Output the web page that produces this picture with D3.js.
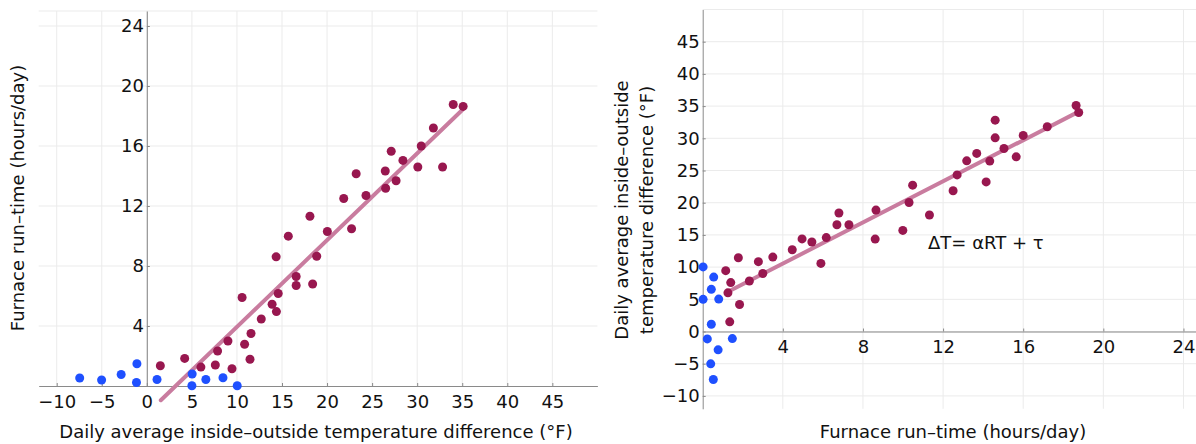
<!DOCTYPE html>
<html>
<head>
<meta charset="utf-8">
<script src="https://cdn.jsdelivr.net/npm/d3@7"></script>
<style>
  body { margin: 0; background: #fff; }
  svg { display: block; font-family: "DejaVu Sans", sans-serif; }
  .grid line { stroke: #ebebeb; stroke-width: 1; }
  .axis path, .axis line { stroke: #8a8a8a; }
  .axis text { font-size: 18px; fill: #111; font-family: "DejaVu Sans", sans-serif; }
  .title { font-size: 18px; fill: #111; }
</style>
</head>
<body>
<div id="chart"></div>
<script>
// daily readings: heated days (maroon) and days that barely needed the furnace (blue)
const heatDeltaT = [1.5, 4.2, 6.0, 7.6, 7.85, 9.0, 9.45, 10.57, 10.85, 11.45, 11.56, 12.7, 13.9, 14.38, 14.58,
                    14.35, 15.7, 16.57, 16.57, 18.4, 18.1, 18.85, 20.03, 21.85, 22.72, 23.23, 24.32, 26.46, 26.5,
                    27.12, 27.66, 28.42, 30.07, 30.45, 31.8, 32.82, 34.0, 35.1];
const heatRunTime = [1.35, 1.84, 1.26, 1.4, 2.33, 3.0, 1.15, 5.9, 2.78, 1.78, 3.5, 4.47, 5.45, 4.96, 6.17,
                     8.61, 9.99, 7.3, 6.7, 6.8, 11.32, 8.65, 10.3, 12.5, 10.48, 14.15, 12.7, 14.33, 13.18,
                     15.65, 13.68, 15.04, 14.6, 16.0, 17.2, 14.6, 18.77, 18.64];
const coldDeltaT = [-7.45, -5.02, -2.85, -1.1, -1.15, 1.13, 5.03, 5.0, 6.55, 8.45, 10.03];
const coldRunTime = [0.53, 0.4, 0.77, 1.48, 0.23, 0.43, 0.8, 0.02, 0.43, 0.55, 0.02];

// fitted lines (end points)
const leftFitDeltaT = [1.55, 35.0];
const leftFitRunTime = [-0.95, 18.4];
const rightFitRunTime = [1.36, 18.75];
const rightFitDeltaT = [6.33, 34.1];

// ticks
const leftXTicks = [-10, -5, 0, 5, 10, 15, 20, 25, 30, 35, 40, 45];
const leftYTicks = [4, 8, 12, 16, 20, 24];
const rightXTicks = [4, 8, 12, 16, 20, 24];
const rightYTicks = [-10, -5, 0, 5, 10, 15, 20, 25, 30, 35, 40, 45];

const w = 1196,
      h = 444;
const heatColor = "#98174f",
      coldColor = "#1f50ff",
      fitColor = "#c97c9f";

let svg = d3.select("#chart")
            .append("svg")
            .attr("width", w)
            .attr("height", h);

function panel(o) {
  let g = svg.append("g");
  let x = d3.scaleLinear().domain(o.xDomain).range(o.xRange);
  let y = d3.scaleLinear().domain(o.yDomain).range(o.yRange);

  // grid
  let grid = g.append("g").attr("class", "grid");
  grid.selectAll(".gx")
      .data(o.xGrid)
      .enter().append("line")
      .attr("x1", d => x(d)).attr("x2", d => x(d))
      .attr("y1", o.yRange[0]).attr("y2", o.yRange[1]);
  grid.selectAll(".gy")
      .data(o.yGrid.concat([o.yDomain[1]]))
      .enter().append("line")
      .attr("y1", d => y(d)).attr("y2", d => y(d))
      .attr("x1", o.xRange[0]).attr("x2", o.xRange[1]);

  // axes through zero
  g.append("g")
   .attr("class", "axis")
   .attr("transform", `translate(0, ${y(0)})`)
   .call(d3.axisBottom(x).tickValues(o.xTicks).tickSizeInner(-3).tickSizeOuter(0).tickPadding(9));
  g.append("g")
   .attr("class", "axis")
   .attr("transform", `translate(${x(0)}, 0)`)
   .call(d3.axisLeft(y).tickValues(o.yTicks).tickSizeInner(-3).tickSizeOuter(0).tickPadding(3));

  // fit line
  g.append("line")
   .attr("x1", x(o.fitX[0])).attr("y1", y(o.fitY[0]))
   .attr("x2", x(o.fitX[1])).attr("y2", y(o.fitY[1]))
   .attr("stroke", fitColor)
   .attr("stroke-width", 4)
   .attr("stroke-linecap", "round");

  // points
  g.selectAll(".heat")
   .data(o.heatX)
   .enter().append("circle")
   .attr("cx", d => x(d))
   .attr("cy", (d, i) => y(o.heatY[i]))
   .attr("r", 4.5)
   .attr("fill", heatColor);
  g.selectAll(".cold")
   .data(o.coldX)
   .enter().append("circle")
   .attr("cx", d => x(d))
   .attr("cy", (d, i) => y(o.coldY[i]))
   .attr("r", 4.5)
   .attr("fill", coldColor);
  return {x: x, y: y};
}

// left: run-time vs temperature difference
panel({
  xDomain: [-12, 50], xRange: [38.7, 597.4],
  yDomain: [0, 25], yRange: [386, 11],
  xGrid: leftXTicks, yGrid: leftYTicks,
  xTicks: leftXTicks, yTicks: leftYTicks,
  heatX: heatDeltaT, heatY: heatRunTime,
  coldX: coldDeltaT, coldY: coldRunTime,
  fitX: leftFitDeltaT, fitY: leftFitRunTime
});

// right: temperature difference vs run-time
let r = panel({
  xDomain: [0, 25], xRange: [702.7, 1203.5],
  yDomain: [-12, 50], yRange: [408.8, 9.5],
  xGrid: rightXTicks, yGrid: rightYTicks,
  xTicks: rightXTicks, yTicks: rightYTicks,
  heatX: heatRunTime, heatY: heatDeltaT,
  coldX: coldRunTime, coldY: coldDeltaT,
  fitX: rightFitRunTime, fitY: rightFitDeltaT
});

// titles
svg.append("text").attr("class", "title")
   .attr("x", 316).attr("y", 438)
   .attr("text-anchor", "middle")
   .text("Daily average inside\u2013outside temperature difference (\u00b0F)");
svg.append("text").attr("class", "title")
   .attr("transform", "translate(24, 198) rotate(-90)")
   .attr("text-anchor", "middle")
   .text("Furnace run\u2013time (hours/day)");
svg.append("text").attr("class", "title")
   .attr("x", 953).attr("y", 438)
   .attr("text-anchor", "middle")
   .text("Furnace run\u2013time (hours/day)");
let yt = svg.append("text").attr("class", "title")
   .attr("transform", "translate(628, 210) rotate(-90)")
   .attr("text-anchor", "middle");
yt.append("tspan").attr("x", 0).attr("dy", 0).text("Daily average inside\u2013outside");
yt.append("tspan").attr("x", 0).attr("dy", 25).text("temperature difference (\u00b0F)");

// annotation
svg.append("text").attr("class", "title")
   .attr("x", r.x(11.25)).attr("y", 249)
   .text("\u0394T= \u03b1RT + \u03c4");
</script>
</body>
</html>
